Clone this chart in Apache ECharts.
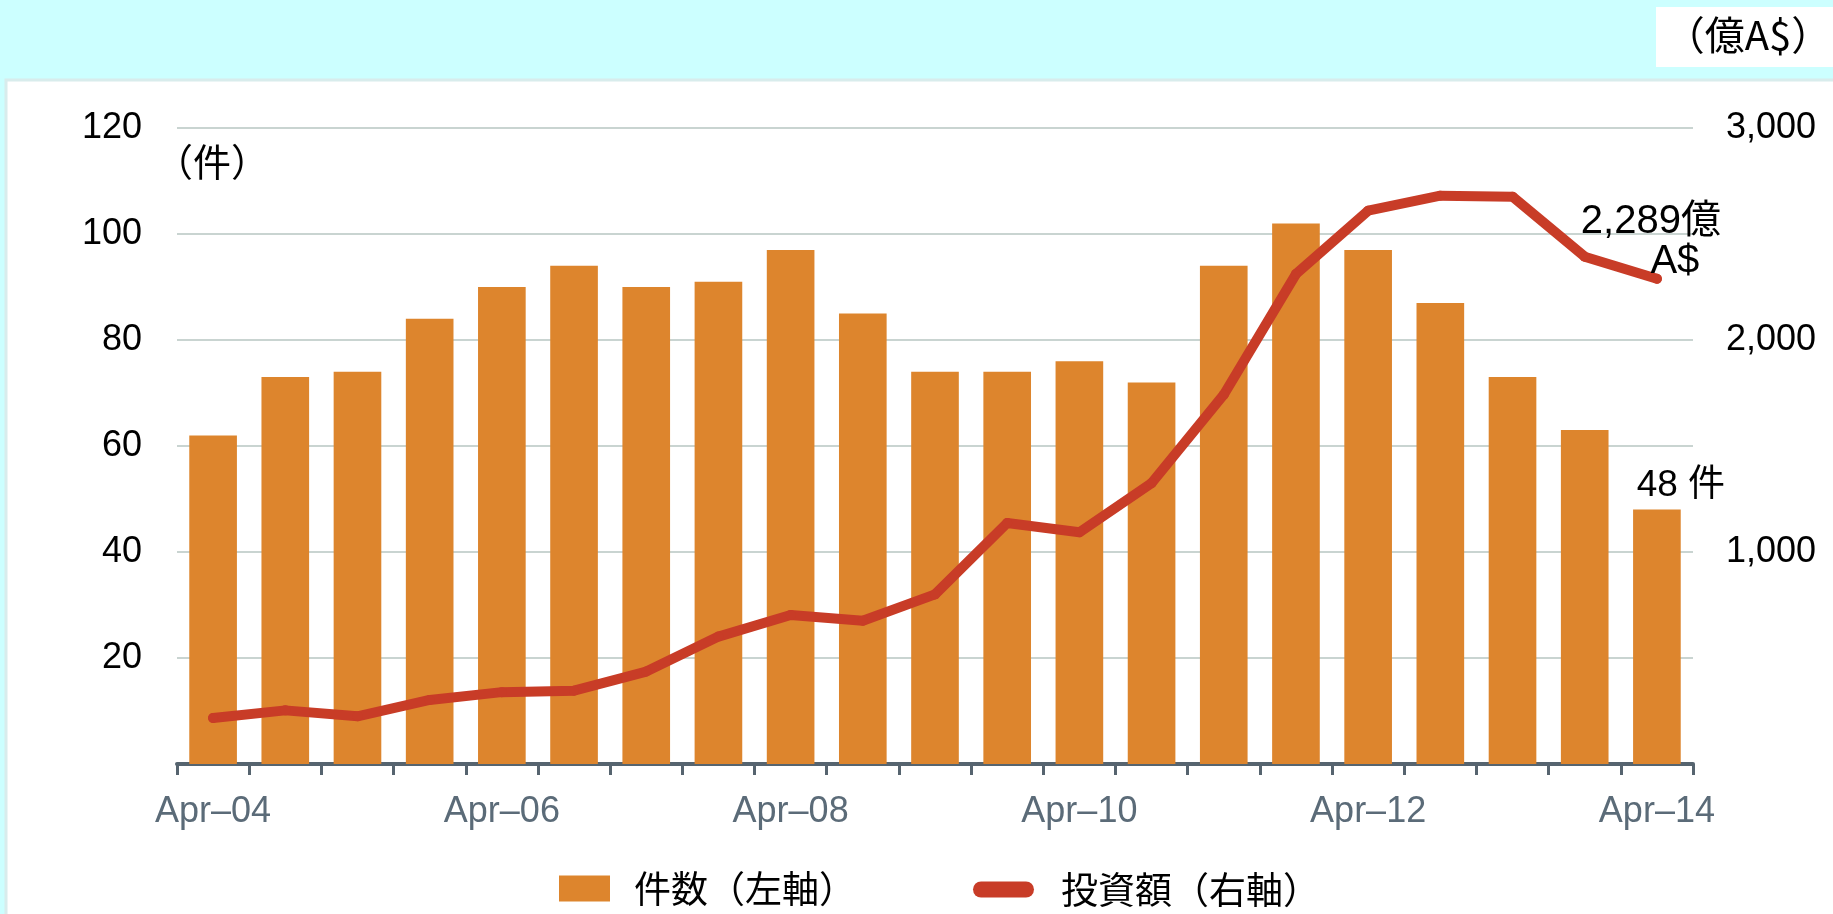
<!DOCTYPE html>
<html>
<head>
<meta charset="utf-8">
<script src="https://cdn.jsdelivr.net/npm/echarts@6/dist/echarts.min.js"></script>
<style>
  html, body { margin: 0; padding: 0; background: #CCFFFF; }
  #c { width: 1833px; height: 914px; }
</style>
</head>
<body>
<div id="c"></div>
<script>
// Categories: semi-annual, Apr-04 to Apr-14
const categories = ['Apr–04','Oct–04','Apr–05','Oct–05','Apr–06','Oct–06','Apr–07','Oct–07','Apr–08','Oct–08','Apr–09','Oct–09','Apr–10','Oct–10','Apr–11','Oct–11','Apr–12','Oct–12','Apr–13','Oct–13','Apr–14'];
// 件数 (left axis)
const dealCounts = [62,73,74,84,90,94,90,91,97,85,74,74,76,72,94,102,97,87,73,63,48];
// 投資額 (right axis, 億A$)
const investment = [217,253,225,302,339,346,436,601,703,676,800,1137,1093,1325,1742,2311,2610,2681,2676,2393,2289];
const leftTicks = [0,20,40,60,80,100,120];
const rightTicks = [0,1000,2000,3000];

const FONT = '"Liberation Sans", Arial, "Noto Sans CJK JP", sans-serif';
const CJK = '"Noto Sans CJK JP", "Liberation Sans", sans-serif';
const BAR_COLOR = '#DD852D';
const LINE_COLOR = '#C83C27';

const lastIdx = dealCounts.length - 1;
const barData = dealCounts.map((v, i) => i === lastIdx ? {
  value: v,
  label: { show: true, position: 'top', distance: 5, offset: [24, 0],
           formatter: p => p.value + ' 件', color: '#000', fontSize: 37, fontFamily: FONT }
} : v);
const lineData = investment.map((v, i) => i === lastIdx ? {
  value: v,
  label: { show: true, position: 'top', distance: 0, offset: [-6, 8],
           formatter: p => '{a|' + p.value.toLocaleString('en-US') + '億}\n{b|A$}',
           color: '#000', fontSize: 40, fontFamily: FONT, lineHeight: 40,
           rich: { a: { fontSize: 40, lineHeight: 40, fontFamily: FONT, color: '#000' },
                   b: { fontSize: 40, lineHeight: 40, fontFamily: FONT, color: '#000', padding: [0,0,0,48] } } }
} : v);

const chart = echarts.init(document.getElementById('c'), null, { renderer: 'canvas' });
chart.setOption({
  backgroundColor: 'transparent',
  animation: false,
  graphic: [
    { type: 'rect', z: -10, shape: { x: 6, y: 80, width: 1840, height: 900 },
      style: { fill: '#FFFFFF', stroke: '#D8ECEC', lineWidth: 3 } },
    { type: 'rect', z: -10, shape: { x: 1656, y: 7, width: 180, height: 60 },
      style: { fill: '#FFFFFF' } },
    { type: 'text', x: 1748, y: 35,
      style: { text: '（億A$）', fontSize: 40, fontFamily: CJK, fill: '#000', align: 'center', verticalAlign: 'middle' } },
    { type: 'text', x: 212, y: 162,
      style: { text: '（件）', fontSize: 38, fontFamily: CJK, fill: '#000', align: 'center', verticalAlign: 'middle' } }
  ],
  grid: { left: 177, right: 140, top: 128, bottom: 150, containLabel: false, outerBoundsMode: 'none' },
  legend: [
    { left: 554, top: 865, itemWidth: 51, itemHeight: 26,
      textStyle: { fontSize: 37, color: '#000', fontFamily: CJK, padding: [0, 0, 0, 19] },
      data: [{ name: '件数（左軸）', icon: 'rect', itemStyle: { color: BAR_COLOR } }] },
    { left: 968, top: 866, itemWidth: 61, itemHeight: 16,
      textStyle: { fontSize: 37, color: '#000', fontFamily: CJK, padding: [0, 0, 0, 22] },
      data: [{ name: '投資額（右軸）',
               icon: 'path://M8,0 L53,0 A8,8 0 0 1 53,16 L8,16 A8,8 0 0 1 8,0 Z',
               itemStyle: { color: LINE_COLOR } }] }
  ],
  xAxis: {
    type: 'category', data: categories, boundaryGap: true,
    axisLine: { show: true, lineStyle: { color: '#56646F', width: 4 } },
    axisTick: { show: true, interval: 0, length: 11, lineStyle: { color: '#56646F', width: 3 } },
    axisLabel: { interval: 3, fontSize: 36, color: '#5B6B78', fontFamily: FONT, margin: 30 },
    splitLine: { show: false }
  },
  yAxis: [
    { type: 'value', min: leftTicks[0], max: leftTicks[leftTicks.length-1], interval: leftTicks[1]-leftTicks[0],
      axisLine: { show: false }, axisTick: { show: false },
      axisLabel: { showMinLabel: false, fontSize: 36, color: '#000', fontFamily: FONT, margin: 35 },
      splitLine: { show: true, lineStyle: { color: '#C9D4D1', width: 2 } } },
    { type: 'value', min: rightTicks[0], max: rightTicks[rightTicks.length-1], interval: rightTicks[1]-rightTicks[0],
      position: 'right',
      axisLine: { show: false }, axisTick: { show: false },
      axisLabel: { showMinLabel: false, fontSize: 36, color: '#000', fontFamily: FONT, margin: 33,
                   formatter: v => v.toLocaleString('en-US') },
      splitLine: { show: false } }
  ],
  series: [
    { name: '件数（左軸）', type: 'bar', yAxisIndex: 0, data: barData, barWidth: '66%',
      itemStyle: { color: BAR_COLOR } },
    { name: '投資額（右軸）', type: 'line', yAxisIndex: 1, data: lineData,
      symbol: 'circle', symbolSize: 10, showSymbol: true,
      lineStyle: { color: LINE_COLOR, width: 10, cap: 'round', join: 'round' },
      itemStyle: { color: LINE_COLOR }, z: 5 }
  ]
});
</script>
</body>
</html>
